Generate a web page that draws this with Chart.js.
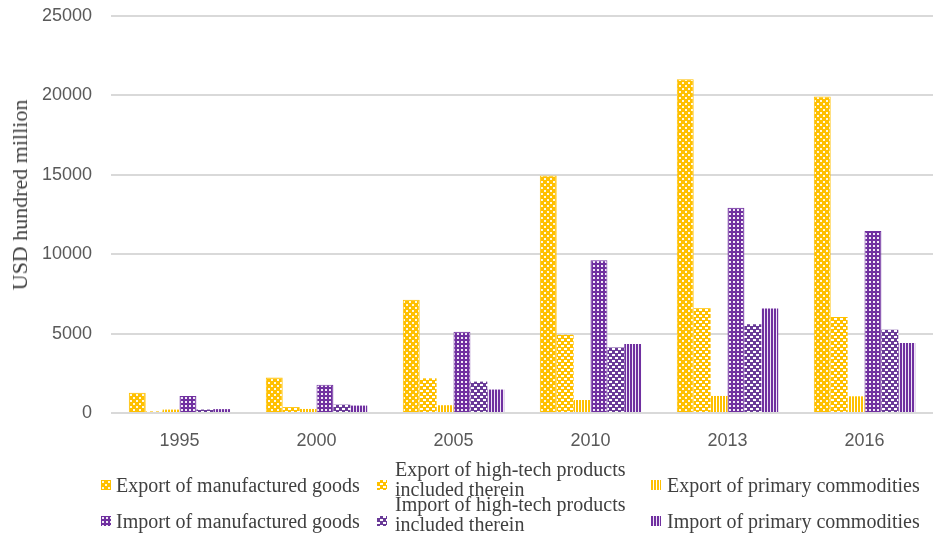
<!DOCTYPE html>
<html>
<head>
<meta charset="utf-8">
<script src="https://cdn.jsdelivr.net/npm/chart.js@4/dist/chart.umd.min.js"></script>
<style>
  html, body { margin: 0; padding: 0; background: #fff; }
  #wrap { position: relative; width: 933px; height: 541px; overflow: hidden; }
  #c { position: absolute; left: 0; top: 0; }
  .leg { position: absolute; font-family: "Liberation Serif", "Times New Roman", serif; font-size: 20px; line-height: 20px; color: #404040; white-space: nowrap; }
  .sw { position: absolute; width: 10px; height: 10px; }
  #ytitle { position: absolute; left: 20px; top: 195px; transform: translate(-50%, -50%) rotate(-90deg); font-family: "Liberation Serif", "Times New Roman", serif; font-size: 22px; line-height: 22px; color: #404040; white-space: nowrap; }
</style>
</head>
<body>
<div id="wrap">
  <canvas id="c" width="933" height="541"></canvas>
  <div id="ytitle">USD hundred million</div>
  <div id="legend"></div>
</div>
<script>
// ---- data ----
const categories = ['1995', '2000', '2005', '2010', '2013', '2016'];
const exportManufactured = [1273, 2237, 7129, 14961, 21017, 19924];
const exportHighTech     = [101, 370, 2183, 4924, 6603, 6042];
const exportPrimary      = [215, 255, 490, 817, 1073, 1052];
const importManufactured = [1071, 1784, 5122, 9624, 12919, 11468];
const importHighTech     = [218, 525, 1977, 4127, 5582, 5236];
const importPrimary      = [244, 467, 1477, 4339, 6581, 4411];
const seriesNames = [
  'Export of manufactured goods',
  'Export of high-tech products\nincluded therein',
  'Export of primary commodities',
  'Import of manufactured goods',
  'Import of high-tech products\nincluded therein',
  'Import of primary commodities'
];

const ORANGE = '#FFC000';
const PURPLE = '#7030A0';

function makeTile(w, h, draw) {
  const c = document.createElement('canvas');
  c.width = w; c.height = h;
  const x = c.getContext('2d');
  draw(x);
  return c;
}
const tiles = [
  makeTile(6, 6, x => { x.fillStyle = ORANGE; x.fillRect(0,0,6,6); x.fillStyle = 'rgba(255,255,255,0.9)'; x.fillRect(1,1,2,2); x.fillRect(4,4,2,2); }),
  makeTile(6, 6, x => { x.fillStyle = ORANGE; x.fillRect(0,0,6,6); x.fillStyle = '#fff'; x.fillRect(0,0,3,2); x.fillRect(3,3,3,2); }),
  makeTile(3, 1, x => { x.fillStyle = '#fff'; x.fillRect(0,0,3,1); x.fillStyle = ORANGE; x.fillRect(0,0,2,1); }),
  makeTile(4, 4, x => { x.fillStyle = PURPLE; x.fillRect(0,0,4,4); x.fillStyle = 'rgba(255,255,255,0.9)'; x.fillRect(1,1,2,2); }),
  makeTile(6, 6, x => { x.fillStyle = '#6a3b98'; x.fillRect(0,0,6,6); x.fillStyle = '#fff'; x.fillRect(0,0,3,2); x.fillRect(3,3,3,2); }),
  makeTile(3, 1, x => { x.fillStyle = '#efe6f6'; x.fillRect(0,0,3,1); x.fillStyle = PURPLE; x.fillRect(0,0,2,1); })
];
const ctx = document.getElementById('c').getContext('2d');
const patterns = tiles.map(t => ctx.createPattern(t, 'repeat'));
const borders = [ORANGE, null, null, PURPLE, null, null];

const values = [exportManufactured, exportHighTech, exportPrimary, importManufactured, importHighTech, importPrimary];

const chart = new Chart(ctx, {
  type: 'bar',
  data: {
    labels: categories,
    datasets: values.map((v, i) => ({
      label: seriesNames[i],
      data: v,
      backgroundColor: patterns[i],
      borderColor: borders[i] || 'rgba(0,0,0,0)',
      borderWidth: borders[i] ? 1 : 0,
      categoryPercentage: 0.74,
      barPercentage: 1.0
    }))
  },
  options: {
    responsive: false,
    animation: false,
    events: [],
    layout: { padding: { left: 0, right: 0, top: 16, bottom: 0 } },
    plugins: { legend: { display: false }, tooltip: { enabled: false } },
    scales: {
      x: {
        grid: { display: false },
        border: { display: false },
        ticks: { color: '#595959', font: { family: 'Liberation Sans', size: 18 }, padding: 9, maxRotation: 0 },
        afterFit: s => { s.height = 128; s.paddingLeft = 0; s.paddingRight = 0; }
      },
      y: {
        min: 0, max: 25000,
        grid: { color: '#d9d9d9', lineWidth: 2, drawTicks: false },
        border: { display: false },
        ticks: { stepSize: 5000, color: '#595959', font: { family: 'Liberation Sans', size: 18 }, padding: 19,
                 callback: v => String(v) },
        afterFit: s => { s.width = 111; s.paddingTop = 0; s.paddingBottom = 0; }
      }
    }
  }
});

// ---- HTML legend ----
const legendPos = [
  { sx: 101, sy: 480, tx: 116, ty: 475 },
  { sx: 377, sy: 480, tx: 395, ty: 459 },
  { sx: 651, sy: 480, tx: 667, ty: 475 },
  { sx: 101, sy: 516, tx: 116, ty: 511 },
  { sx: 377, sy: 516, tx: 395, ty: 494 },
  { sx: 651, sy: 516, tx: 667, ty: 511 }
];
const legend = document.getElementById('legend');
seriesNames.forEach((name, i) => {
  const p = legendPos[i];
  const sw = document.createElement('canvas');
  sw.className = 'sw'; sw.width = 10; sw.height = 10;
  sw.style.left = p.sx + 'px'; sw.style.top = p.sy + 'px';
  const sc = sw.getContext('2d');
  sc.fillStyle = sc.createPattern(tiles[i], 'repeat');
  sc.fillRect(0, 0, 10, 10);
  legend.appendChild(sw);
  const t = document.createElement('div');
  t.className = 'leg';
  t.style.left = p.tx + 'px'; t.style.top = p.ty + 'px';
  name.split('\n').forEach((line, k) => {
    if (k) t.appendChild(document.createElement('br'));
    t.appendChild(document.createTextNode(line));
  });
  legend.appendChild(t);
});
</script>
</body>
</html>
